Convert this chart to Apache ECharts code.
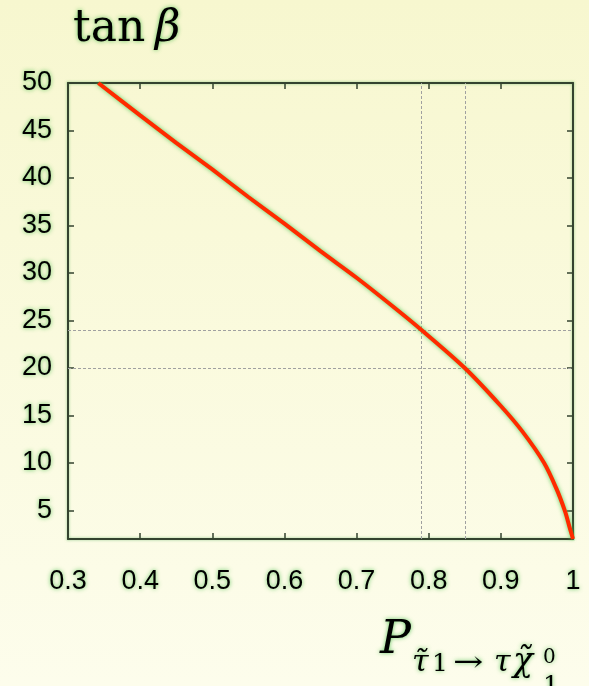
<!DOCTYPE html>
<html>
<head>
<meta charset="utf-8">
<script src="https://cdn.jsdelivr.net/npm/echarts@6/dist/echarts.min.js"></script>
<style>
html,body{margin:0;padding:0;}
#c{width:589px;height:686px;}
</style>
</head>
<body>
<div id="c"></div>
<script>
// ---- data ----
var xValues = [0.342, 0.40, 0.45, 0.50, 0.55, 0.60, 0.65, 0.70, 0.75, 0.79, 0.85, 0.90, 0.93, 0.96, 0.977, 0.989, 0.995, 1.0];
var yValues = [50, 46.6, 43.7, 40.9, 38.0, 35.2, 32.3, 29.5, 26.5, 24.0, 20.0, 16.0, 13.3, 10.0, 7.3, 4.9, 3.3, 2.0];
var refX = [0.79, 0.85];
var refY = [20, 24];
var xTickValues = [0.3, 0.4, 0.5, 0.6, 0.7, 0.8, 0.9, 1.0];
var xTickLabels = ['0.3', '0.4', '0.5', '0.6', '0.7', '0.8', '0.9', '1'];
var yTickValues = [5, 10, 15, 20, 25, 30, 35, 40, 45, 50];
var yTickLabels = ['5', '10', '15', '20', '25', '30', '35', '40', '45', '50'];

var glow = 'rgba(70,190,70,0.85)';
var axisCol = '#34432f';
var serif = '"DejaVu Serif","Liberation Serif",serif';
var tickFont = {fontFamily: '"Liberation Sans Narrow","Liberation Sans",Arial,sans-serif', fontSize: 27, color: '#000', textShadowColor: glow, textShadowBlur: 4};

var chart = echarts.init(document.getElementById('c'), null, {renderer: 'canvas'});

var lineData = xValues.map(function (x, i) { return [x, yValues[i]]; });

function xLabelFmt(v) {
  for (var i = 0; i < xTickValues.length; i++) {
    if (Math.abs(xTickValues[i] - v) < 1e-6) return xTickLabels[i];
  }
  return '';
}
function yLabelFmt(v) {
  for (var i = 0; i < yTickValues.length; i++) {
    if (Math.abs(yTickValues[i] - v) < 1e-6) return yTickLabels[i];
  }
  return '';
}

var axisLineStyle = {color: axisCol, width: 2, shadowColor: 'rgba(90,180,90,0.6)', shadowBlur: 3};

// baseline-positioned text helper (middle-aligned, baseline ≈ y + 0.3*size)
function txt(x, baseline, s, size, italic, extra) {
  var el = {
    type: 'text', x: x, y: baseline - 0.3 * size, z: 10,
    style: {text: s, fontFamily: serif, fontStyle: italic ? 'italic' : 'normal', fontSize: size, fill: '#000',
      verticalAlign: 'middle', textShadowColor: glow, textShadowBlur: 4}
  };
  if (extra) Object.assign(el, extra);
  return el;
}

var option = {
  backgroundColor: {
    type: 'linear', x: 0, y: 0, x2: 0, y2: 1,
    colorStops: [{offset: 0, color: '#f7f7cf'}, {offset: 1, color: '#fdfdec'}]
  },
  animation: false,
  grid: {left: 68, right: 16, top: 83, bottom: 147, show: false},
  xAxis: [{
    type: 'value', min: 0.3, max: 1, interval: 0.1, position: 'bottom',
    axisLine: {show: true, onZero: false, lineStyle: axisLineStyle},
    axisTick: {show: true, inside: true, length: 6, lineStyle: {color: axisCol, width: 1.5}},
    axisLabel: Object.assign({show: true, margin: 29, formatter: xLabelFmt}, tickFont),
    splitLine: {show: false}
  }, {
    type: 'value', min: 0.3, max: 1, interval: 0.1, position: 'top',
    axisLine: {show: true, onZero: false, lineStyle: axisLineStyle},
    axisTick: {show: true, inside: true, length: 6, lineStyle: {color: axisCol, width: 1.5}},
    axisLabel: {show: false},
    splitLine: {show: false}
  }],
  yAxis: [{
    type: 'value', min: 2, max: 50, position: 'left',
    axisLine: {show: true, onZero: false, lineStyle: axisLineStyle},
    axisTick: {show: true, inside: true, length: 6, customValues: yTickValues, lineStyle: {color: axisCol, width: 1.5}},
    axisLabel: Object.assign({show: true, margin: 16, customValues: yTickValues, formatter: yLabelFmt}, tickFont),
    splitLine: {show: false}
  }, {
    type: 'value', min: 2, max: 50, position: 'right',
    axisLine: {show: true, onZero: false, lineStyle: axisLineStyle},
    axisTick: {show: true, inside: true, length: 6, customValues: yTickValues, lineStyle: {color: axisCol, width: 1.5}},
    axisLabel: {show: false, customValues: yTickValues},
    splitLine: {show: false}
  }],
  series: [{
    type: 'line',
    xAxisIndex: 0, yAxisIndex: 0,
    data: lineData,
    smooth: 0.3,
    showSymbol: false,
    clip: true,
    lineStyle: {color: '#ff2a00', width: 4, shadowColor: 'rgba(80,200,80,0.9)', shadowBlur: 4},
    z: 5,
    markLine: {
      silent: true,
      symbol: ['none', 'none'],
      label: {show: false},
      lineStyle: {color: '#a0a0a0', type: [3, 2], width: 1},
      data: refX.map(function (v) { return {xAxis: v}; }).concat(refY.map(function (v) { return {yAxis: v}; })),
      z: 2
    }
  }],
  graphic: [
    txt(73, 43, 'tan', 44, false),
    txt(155, 43, 'β', 44, true),
    txt(380, 655, 'P', 46, true),
    txt(412, 672, 'τ̃', 30, true),
    txt(432, 672, '1', 25, false),
    txt(453, 672, '→', 28, false, {scaleX: 1.3}),
    txt(494, 672, 'τ', 30, true),
    txt(513, 672, 'χ̃', 33, true),
    txt(543, 664, '0', 20, false),
    txt(543, 694, '1', 25, false)
  ]
};
chart.setOption(option);
</script>
</body>
</html>
